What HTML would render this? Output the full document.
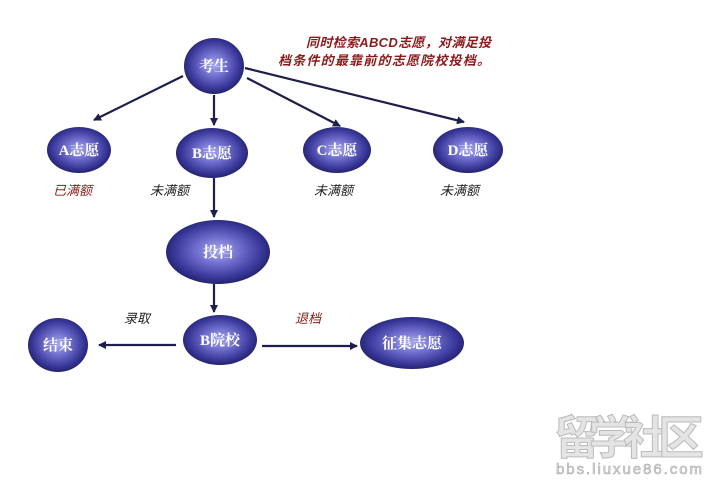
<!DOCTYPE html>
<html><head><meta charset="utf-8"><style>
html,body{margin:0;padding:0;background:#fff;}
svg{display:block;}
.n{font-family:"Liberation Serif","Noto Serif CJK SC",serif;font-size:15px;fill:#fff;text-anchor:middle;font-weight:bold;}
.l{font-family:"Liberation Sans","Noto Sans CJK SC",sans-serif;font-size:13px;font-style:italic;}
</style></head><body>
<svg width="717" height="485" viewBox="0 0 717 485">
<defs>
<radialGradient id="g" cx="50%" cy="48%" r="55%">
<stop offset="0" stop-color="#a9a8ec"/>
<stop offset="0.35" stop-color="#7473d0"/>
<stop offset="0.75" stop-color="#3b3a9c"/>
<stop offset="1" stop-color="#1d1c63"/>
</radialGradient>
<marker id="a" markerWidth="8" markerHeight="8" refX="7" refY="4" orient="auto" markerUnits="userSpaceOnUse">
<path d="M0,0 L8,4 L0,8 z" fill="#1e1e4a"/>
</marker>
</defs>
<g stroke="#1e1e4a" stroke-width="2.2" fill="none" marker-end="url(#a)">
<line x1="183" y1="76" x2="94" y2="120"/>
<line x1="214" y1="95" x2="214" y2="125"/>
<line x1="247" y1="78" x2="340" y2="126"/>
<line x1="245" y1="68" x2="464" y2="122"/>
<line x1="214" y1="178" x2="214" y2="217"/>
<line x1="214" y1="284" x2="214" y2="312"/>
<line x1="176" y1="345" x2="99" y2="345"/>
<line x1="262" y1="346" x2="357" y2="346"/>
</g>
<g fill="url(#g)">
<ellipse cx="214" cy="66" rx="30" ry="28"/>
<ellipse cx="79" cy="150" rx="32" ry="23"/>
<ellipse cx="212" cy="153" rx="36" ry="25"/>
<ellipse cx="337" cy="150" rx="34" ry="23"/>
<ellipse cx="468" cy="150" rx="35" ry="23"/>
<ellipse cx="218" cy="252" rx="52" ry="32"/>
<ellipse cx="220" cy="340" rx="37" ry="25"/>
<ellipse cx="58" cy="345" rx="30" ry="27"/>
<ellipse cx="412" cy="343" rx="52" ry="26"/>
</g>
<text class="n" x="214" y="71">考生</text>
<text class="n" x="79" y="155">A志愿</text>
<text class="n" x="212" y="158">B志愿</text>
<text class="n" x="337" y="155">C志愿</text>
<text class="n" x="468" y="155">D志愿</text>
<text class="n" x="218" y="257">投档</text>
<text class="n" x="220" y="345">B院校</text>
<text class="n" x="58" y="350">结束</text>
<text class="n" x="412" y="348">征集志愿</text>
<text class="l" x="53" y="195" fill="#8b1a1a">已满额</text>
<text class="l" x="150" y="195" fill="#222">未满额</text>
<text class="l" x="314" y="195" fill="#222">未满额</text>
<text class="l" x="440" y="195" fill="#222">未满额</text>
<text class="l" x="124" y="323" fill="#222">录取</text>
<text class="l" x="295" y="323" fill="#8b1a1a">退档</text>
<text class="l" x="306" y="47" fill="#8b1a1a" font-weight="bold" textLength="185">同时检索ABCD志愿，对满足投</text>
<text class="l" x="278" y="65" fill="#8b1a1a" font-weight="bold" textLength="212">档条件的最靠前的志愿院校投档。</text>
<text x="554" y="454" font-family="'Noto Sans CJK SC',sans-serif" font-size="46" font-weight="bold" fill="#e4e4e4" stroke="#bbb" stroke-width="1" textLength="150">留学社区</text>
<text x="556" y="474" font-family="'Liberation Sans',sans-serif" font-size="15" fill="#ddd" stroke="#aaa" stroke-width="0.6" textLength="146">bbs.liuxue86.com</text>
</svg>
</body></html>
